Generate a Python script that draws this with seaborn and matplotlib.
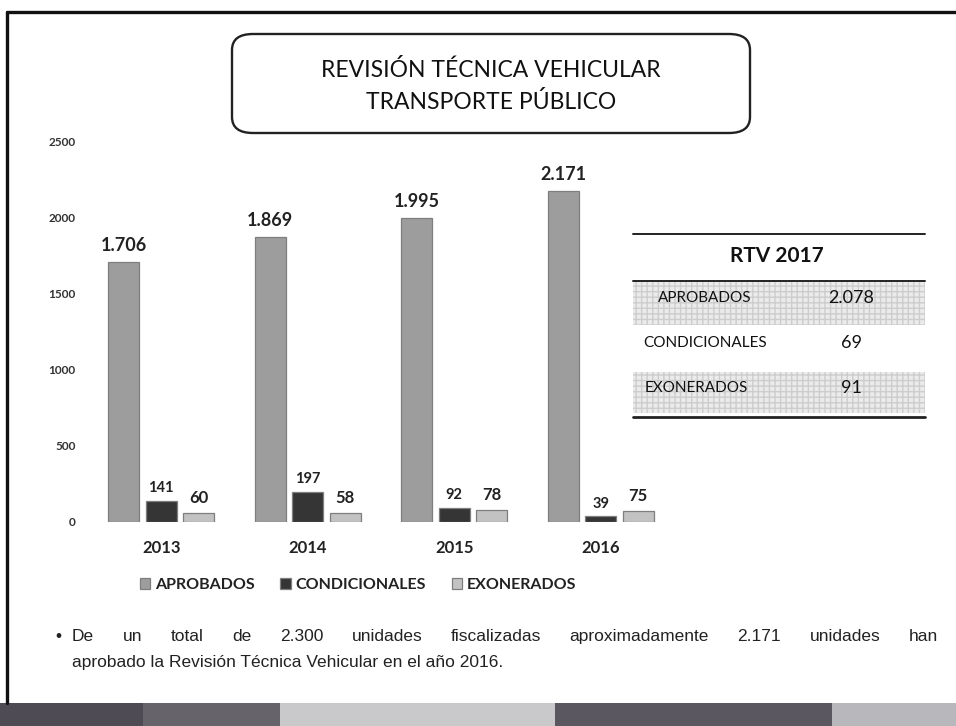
import matplotlib
matplotlib.use("Agg")
import matplotlib.pyplot as plt
from matplotlib.patches import FancyBboxPatch, Rectangle
from matplotlib.lines import Line2D
from matplotlib import font_manager
import seaborn as sns
import pandas as pd

# ---------------- data ----------------
years = ["2013", "2014", "2015", "2016"]
series_names = ["APROBADOS", "CONDICIONALES", "EXONERADOS"]
aprobados = [1706, 1869, 1995, 2171]
condicionales = [141, 197, 92, 39]
exonerados = [60, 58, 78, 75]
y_ticks = [0, 500, 1000, 1500, 2000, 2500]

title_lines = ["REVISIÓN TÉCNICA VEHICULAR", "TRANSPORTE PÚBLICO"]
table_title = "RTV 2017"
table_labels = ["APROBADOS", "CONDICIONALES", "EXONERADOS"]
table_values = ["2.078", "69", "91"]
note_line1 = "De un total de 2.300 unidades fiscalizadas aproximadamente 2.171 unidades han"
note_line2 = "aprobado la Revisión Técnica Vehicular en el año 2016."

df = pd.DataFrame({
    "year": years * 3,
    "tipo": [series_names[0]] * 4 + [series_names[1]] * 4 + [series_names[2]] * 4,
    "value": aprobados + condicionales + exonerados,
})

sns.set_theme(style="white")
FONT = ["Lato", "DejaVu Sans"]
plt.rcParams["font.family"] = FONT

W, H = 956, 726
fig = plt.figure(figsize=(W / 100, H / 100), dpi=100)
fig.patch.set_facecolor("white")

def fx(x):
    return x / W

def fy(y):
    return 1 - y / H

ax_left, ax_right, ax_top, ax_bottom = 88, 674, 141, 522
ax = fig.add_axes([fx(ax_left), fy(ax_bottom), fx(ax_right - ax_left), (ax_bottom - ax_top) / H])
ax.patch.set_alpha(0)

palette = {"APROBADOS": "#9d9d9d", "CONDICIONALES": "#353535", "EXONERADOS": "#c2c2c2"}
sns.barplot(data=df, x="year", y="value", hue="tipo", hue_order=series_names,
            palette=palette, width=0.77, gap=0.18, ax=ax, saturation=1,
            edgecolor="#7e7e7e", linewidth=0.9)

ax.set_xlim(-0.5, 3.5)
ax.set_ylim(0, 2500)
ax.set_yticks(y_ticks)
ax.set_yticklabels([str(t) for t in y_ticks], fontsize=8.5, fontweight="bold", color="#333333")
ax.tick_params(axis="y", length=0, pad=9)
ax.tick_params(axis="x", length=0, pad=13)
for lab in ax.get_xticklabels():
    lab.set_fontsize(12)
    lab.set_fontweight("bold")
    lab.set_color("#222222")
ax.set_xlabel("")
ax.set_ylabel("")
for s in ax.spines.values():
    s.set_visible(False)
ax.grid(False)

def fmt(v):
    return f"{int(v):,}".replace(",", ".")

label_sizes = [13, 10.5, 12]
label_pads = [6, 4, 5]
for cont, fs, pd_ in zip(ax.containers, label_sizes, label_pads):
    vals = [b.get_height() for b in cont]
    ax.bar_label(cont, labels=[fmt(v) for v in vals], fontsize=fs, fontweight="bold",
                 color="#222222", padding=pd_)

sns.move_legend(ax, loc="center", bbox_to_anchor=(fx(358), fy(585)),
                bbox_transform=fig.transFigure, ncol=3, frameon=False, title=None,
                handlelength=0.65, handleheight=0.65, handletextpad=0.3,
                columnspacing=1.6, fontsize=11.5)
for t in ax.get_legend().get_texts():
    t.set_fontweight("bold")
    t.set_color("#222222")

# ---------------- title box ----------------
box = FancyBboxPatch((fx(232), fy(133)), fx(750 - 232), (133 - 34) / H,
                     boxstyle="round,pad=0,rounding_size=0.022",
                     transform=fig.transFigure, facecolor="white",
                     edgecolor="#222222", linewidth=1.7, zorder=2)
fig.patches.append(box)
fig.text(fx(491), fy(70), title_lines[0], ha="center", va="center", fontsize=16.5,
         color="#111111", zorder=3)
fig.text(fx(491), fy(102), title_lines[1], ha="center", va="center", fontsize=16.5,
         color="#111111", zorder=3)

# ---------------- RTV 2017 table ----------------
tl, tr = 633, 925
for (y0, y1) in [(281, 325), (372, 413)]:
    r = Rectangle((fx(tl), fy(y1)), fx(tr - tl), (y1 - y0) / H, transform=fig.transFigure,
                  facecolor="#ebebeb", edgecolor="#cdcdcd", hatch="+++", linewidth=0, zorder=2)
    fig.patches.append(r)
for y, lw in [(234, 1.4), (281, 1.4), (417, 2.0)]:
    fig.add_artist(Line2D([fx(tl), fx(tr)], [fy(y), fy(y)], transform=fig.transFigure,
                          color="#222222", linewidth=lw, zorder=3))
fig.text(fx(777), fy(256), table_title, ha="center", va="center", fontsize=15,
         fontweight="bold", color="#111111", zorder=4)
label_x = [658, 643, 645]
row_y = [298, 343, 388]
for lab, val, lx, ry in zip(table_labels, table_values, label_x, row_y):
    fig.text(fx(lx), fy(ry), lab, ha="left", va="center", fontsize=11, color="#111111", zorder=4)
    fig.text(fx(851), fy(ry), val, ha="center", va="center", fontsize=13, color="#111111", zorder=4)

# ---------------- frame and bottom stripe ----------------
fig.add_artist(Line2D([fx(7), fx(956)], [fy(12), fy(12)], transform=fig.transFigure,
                      color="#111111", linewidth=2.4))
fig.add_artist(Line2D([fx(7), fx(7)], [fy(12), fy(703)], transform=fig.transFigure,
                      color="#111111", linewidth=2.4))
stripe = [(0, 143, "#4e4b55"), (143, 280, "#66636b"), (280, 555, "#c9c9cc"),
          (555, 832, "#5a5760"), (832, 956, "#b8b8bc")]
for x0, x1, c in stripe:
    fig.patches.append(Rectangle((fx(x0), 0), fx(x1 - x0), (726 - 703) / H,
                                 transform=fig.transFigure, facecolor=c, edgecolor="none"))

# ---------------- note text ----------------
avail = set(f.name for f in font_manager.fontManager.ttflist)
note_font = ["Liberation Sans Narrow", "Liberation Sans", "DejaVu Sans"]
note_font = [f for f in note_font if f in avail] or ["DejaVu Sans"]
NFS = 12.5
base1, base2 = 641, 667
fig.text(fx(55), fy(base1), "•", ha="left", va="baseline", fontsize=NFS, family=note_font,
         color="#222222")
fig.canvas.draw()
renderer = fig.canvas.get_renderer()
words = note_line1.split(" ")
txts = [fig.text(0, fy(base1), w, ha="left", va="baseline", fontsize=NFS, family=note_font,
                 color="#222222") for w in words]
widths = [t.get_window_extent(renderer).width for t in txts]
x_start, x_end = 72, 938
gap = (x_end - x_start - sum(widths)) / (len(words) - 1)
x = x_start
for t, w in zip(txts, widths):
    t.set_x(fx(x))
    x += w + gap
fig.text(fx(x_start), fy(base2), note_line2, ha="left", va="baseline", fontsize=NFS,
         family=note_font, color="#222222")

fig.savefig("out.png", dpi=100)
